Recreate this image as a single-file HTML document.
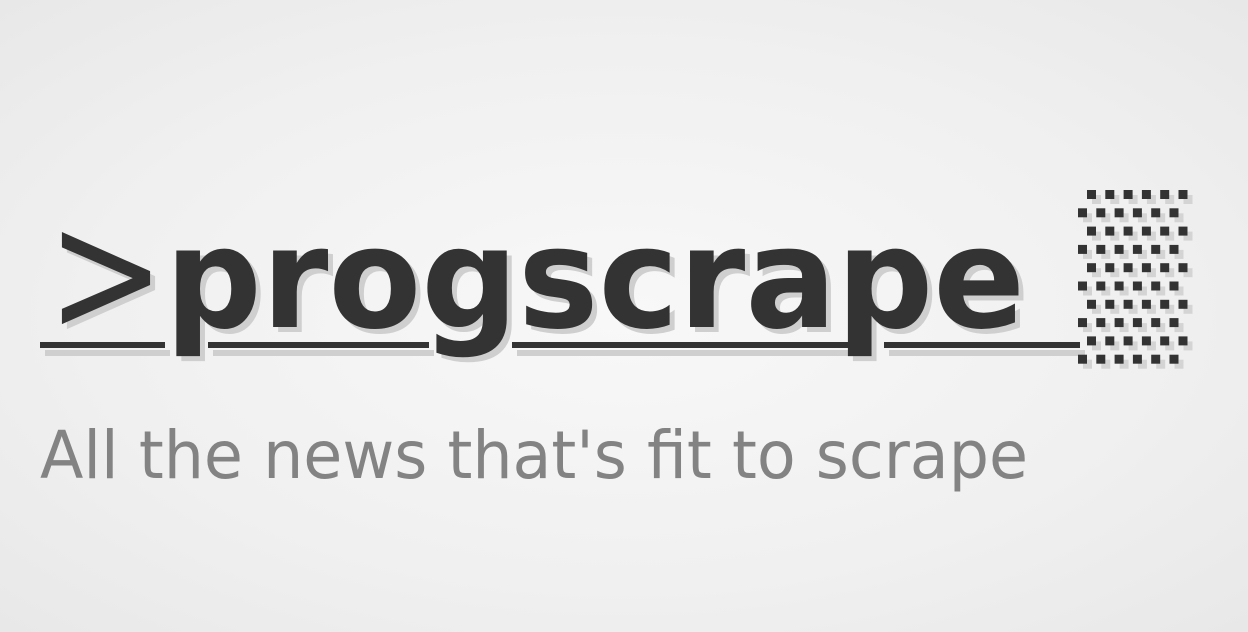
<!DOCTYPE html>
<html><head><meta charset="utf-8"><style>
html,body{margin:0;padding:0;width:1248px;height:632px;overflow:hidden;}
body{background:radial-gradient(ellipse at 50% 50%,#f8f8f8 0%,#f0f0f0 60%,#e8e8e8 100%);}
</style></head><body>
<svg width="1248" height="632" viewBox="0 0 1248 632" xmlns="http://www.w3.org/2000/svg">
  <g fill="#cfcfcf">
    <text x="52" y="337" font-family="DejaVu Sans, Liberation Sans, sans-serif" font-size="172" textLength="118" lengthAdjust="spacingAndGlyphs">&gt;</text>
    <text x="170" y="332" font-family="DejaVu Sans, Liberation Sans, sans-serif" font-weight="bold" font-size="140" textLength="860" lengthAdjust="spacingAndGlyphs">progscrape</text>
    <rect x="45" y="350" width="125" height="6"/>
    <rect x="213" y="350" width="221" height="6"/>
    <rect x="517" y="350" width="337" height="6"/>
    <rect x="889" y="350" width="196" height="6"/>
  </g>
  <g fill="#333333">
    <text x="47" y="332" font-family="DejaVu Sans, Liberation Sans, sans-serif" font-size="172" textLength="118" lengthAdjust="spacingAndGlyphs">&gt;</text>
    <text x="165" y="327" font-family="DejaVu Sans, Liberation Sans, sans-serif" font-weight="bold" font-size="140" textLength="860" lengthAdjust="spacingAndGlyphs">progscrape</text>
    <rect x="40" y="342" width="125" height="6"/>
    <rect x="208" y="342" width="221" height="6"/>
    <rect x="512" y="342" width="337" height="6"/>
    <rect x="884" y="342" width="196" height="6"/>
  </g>
  <g id="dots"></g>
  <text x="40" y="478" font-family="DejaVu Sans, Liberation Sans, sans-serif" font-size="66" fill="#838383" textLength="988" lengthAdjust="spacingAndGlyphs">All the news that's fit to scrape</text>
</svg>
<script>
var g=document.getElementById('dots');
var ns='http://www.w3.org/2000/svg';
for(var r=0;r<10;r++){
  for(var c=0;c<6;c++){
    var x=(r%2===0?1087:1078)+c*18.3, y=190+r*18.3;
    var s=document.createElementNS(ns,'rect');
    s.setAttribute('x',x+5);s.setAttribute('y',y+5);s.setAttribute('width',9);s.setAttribute('height',9);s.setAttribute('fill','#d4d4d4');
    
    
    g.appendChild(s);
    var d=document.createElementNS(ns,'rect');
    d.setAttribute('x',x);d.setAttribute('y',y);d.setAttribute('width',9);d.setAttribute('height',9);d.setAttribute('fill','#333');
    
    
    g.appendChild(d);
  }
}
</script>
</body></html>
